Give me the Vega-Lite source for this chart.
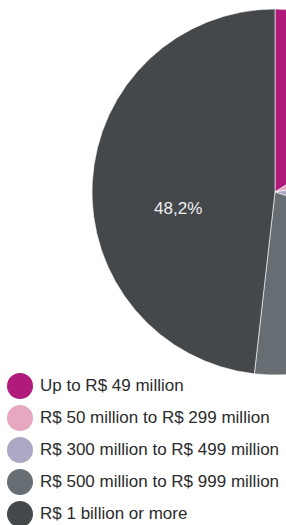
{
  "$schema": "https://vega.github.io/schema/vega-lite/v6.json",
  "width": 550,
  "height": 384,
  "autosize": {"type": "none"},
  "padding": {"left": 0, "top": 0, "right": -264, "bottom": 141},
  "background": "white",
  "config": {"view": {"stroke": null}},
  "data": {
    "values": [
      {"k": 1, "band": "Up to R$ 49 million", "pct": 16.0, "label": ""},
      {"k": 2, "band": "R$ 50 million to R$ 299 million", "pct": 6.5, "label": ""},
      {"k": 3, "band": "R$ 300 million to R$ 499 million", "pct": 7.5, "label": ""},
      {"k": 4, "band": "R$ 500 million to R$ 999 million", "pct": 21.8, "label": ""},
      {"k": 5, "band": "R$ 1 billion or more", "pct": 48.2, "label": "48,2%"}
    ]
  },
  "encoding": {
    "theta": {"field": "pct", "type": "quantitative", "stack": true},
    "order": {"field": "k", "type": "quantitative"}
  },
  "layer": [
    {
      "mark": {"type": "arc", "outerRadius": 183, "stroke": "#ffffff", "strokeWidth": 0.6},
      "encoding": {
        "color": {
          "field": "band",
          "type": "nominal",
          "sort": null,
          "scale": {
            "domain": ["Up to R$ 49 million", "R$ 50 million to R$ 299 million", "R$ 300 million to R$ 499 million", "R$ 500 million to R$ 999 million", "R$ 1 billion or more"],
            "range": ["#b01a7a", "#e8a7c0", "#aaa8c2", "#666e73", "#44484b"]
          },
          "legend": {
            "orient": "none",
            "legendX": 7,
            "legendY": 373,
            "title": null,
            "symbolType": "circle",
            "symbolSize": 676,
            "symbolStrokeWidth": 0,
            "symbolOpacity": 1,
            "labelFontSize": 17,
            "labelFont": "Liberation Sans",
            "labelColor": "#2b2b2b",
            "labelOffset": 7,
            "labelLimit": 300,
            "rowPadding": 6,
            "padding": 0
          }
        }
      }
    },
    {
      "mark": {"type": "text", "radius": 97, "dy": 22, "fontSize": 17, "font": "Liberation Sans", "fill": "#eeeeee"},
      "encoding": {"text": {"field": "label", "type": "nominal"}}
    }
  ]
}
